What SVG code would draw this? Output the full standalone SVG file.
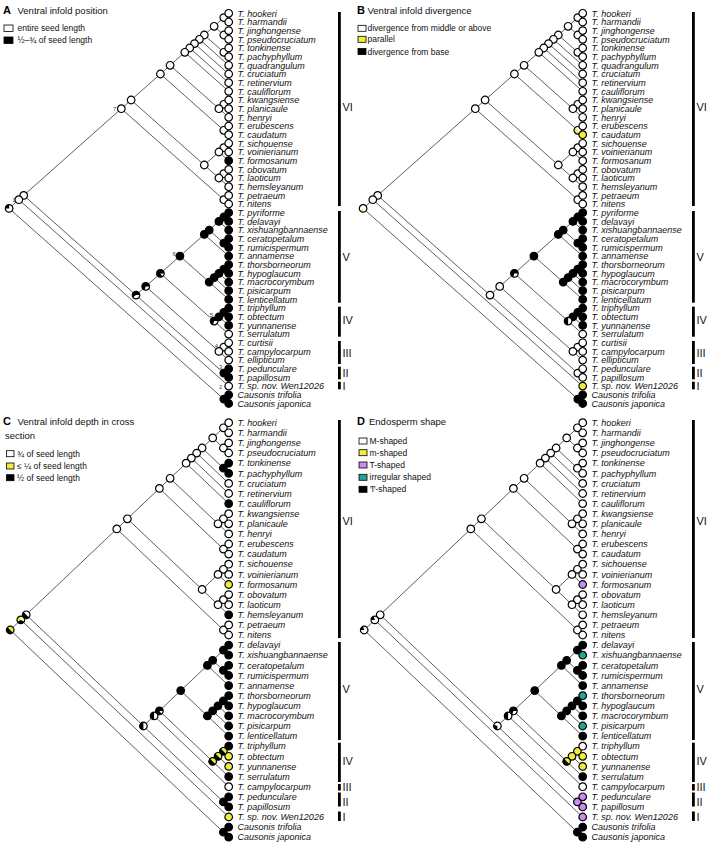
<svg xmlns="http://www.w3.org/2000/svg" xmlns:xlink="http://www.w3.org/1999/xlink" width="708" height="852" viewBox="0 0 708 852">
<defs>
<style>
.e{fill:none;stroke:#2a2a2a;stroke-width:0.75}
.tx text{font-family:"Liberation Sans",Arial,sans-serif;font-size:9px;font-style:italic;fill:#111}
.ttl{font-family:"Liberation Sans",Arial,sans-serif;font-size:9.5px;fill:#111}
.lg{font-family:"Liberation Sans",Arial,sans-serif;font-size:8.5px;fill:#111}
.pl{font-family:"Liberation Sans",Arial,sans-serif;font-size:11px;font-weight:bold;fill:#000}
.cl{font-family:"Liberation Sans",Arial,sans-serif;font-size:11px;fill:#111}
.nm{font-family:"Liberation Sans",Arial,sans-serif;font-size:6px;fill:#444}
.o{stroke:#000;stroke-width:1.2}
.bx{stroke:#000;stroke-width:0.8}
.up{font-style:normal}
</style>
<circle id="w" class="o" r="3.8" fill="#fff"/>
<circle id="k" class="o" r="3.8" fill="#000"/>
<circle id="y" class="o" r="3.8" fill="#f2ec3c"/>
<circle id="p" class="o" r="3.8" fill="#c98cf0"/>
<circle id="t" class="o" r="3.8" fill="#22a393"/>
<circle id="ring" r="3.8" fill="none" stroke="#000" stroke-width="1.2"/>
<g id="wk25"><circle r="3.8" fill="#fff"/><path d="M0,0L-3.8,0A3.8,3.8 0 0,1 0,-3.8Z"/><use href="#ring"/></g>
<g id="wk20"><circle r="3.8" fill="#fff"/><path d="M0,0L-3.8,0A3.8,3.8 0 0,1 -1.17,-3.61Z"/><use href="#ring"/></g>
<g id="wk30"><circle r="3.8" fill="#fff"/><path d="M0,0L0,3.8A3.8,3.8 0 0,1 -3.61,-1.17Z"/><use href="#ring"/></g>
<g id="wk50"><circle r="3.8" fill="#fff"/><path d="M2.69,2.69A3.8,3.8 0 0,1 -2.69,-2.69Z"/><use href="#ring"/></g>
<g id="kw15"><circle r="3.8"/><path d="M0,0L3.8,0A3.8,3.8 0 0,1 2.23,3.07Z" fill="#fff"/><use href="#ring"/></g>
<g id="kw30"><circle r="3.8"/><path d="M0,0L3.8,0A3.8,3.8 0 0,1 -1.17,3.61Z" fill="#fff"/><use href="#ring"/></g>
<g id="kw40"><circle r="3.8"/><path d="M0,0L3.8,0A3.8,3.8 0 0,1 -3.07,2.23Z" fill="#fff"/><use href="#ring"/></g>
<g id="kw50"><circle r="3.8"/><path d="M0,-3.8A3.8,3.8 0 0,1 0,3.8Z" fill="#fff"/><use href="#ring"/></g>
<g id="yk50"><circle r="3.8" fill="#f2ec3c"/><path d="M2.69,2.69A3.8,3.8 0 0,1 -2.69,-2.69Z"/><use href="#ring"/></g>
<g id="ywk"><circle r="3.8" fill="#f2ec3c"/><path d="M0,0L0,-3.8A3.8,3.8 0 0,1 3.29,1.9Z" fill="#fff"/><path d="M0,0L3.29,1.9A3.8,3.8 0 0,1 -3.29,1.9Z"/><use href="#ring"/></g>
<g id="wy35"><circle r="3.8" fill="#fff"/><path d="M0,0L0,3.8A3.8,3.8 0 0,1 -3.07,-2.23Z" fill="#f2ec3c"/><use href="#ring"/></g>
<g id="wy15"><circle r="3.8" fill="#fff"/><path d="M0,0L0,3.8A3.8,3.8 0 0,1 -3.07,2.23Z" fill="#f2ec3c"/><use href="#ring"/></g>
</defs>
<rect width="708" height="852" fill="#fff"/>

<!-- ===== connectors ===== -->
<g id="connectors">
<g id="edges-A" class="e">
<path d="M228.7,13.3L223.8,17.6L228.7,22"/>
<path d="M228.7,30.6L223.8,35L228.7,39.3"/>
<path d="M223.8,17.6L214.1,26.3L223.8,35"/>
<path d="M228.7,48L223.8,52.3L228.7,56.7"/>
<path d="M214.1,26.3L204.3,35L223.8,52.3"/>
<path d="M204.3,35L199.4,39.3L228.7,65.3"/>
<path d="M199.4,39.3L194.5,43.6L228.7,74"/>
<path d="M194.5,43.6L189.7,48L228.7,82.7"/>
<path d="M189.7,48L184.8,52.3L228.7,91.3"/>
<path d="M228.7,100L223.8,104.3L228.7,108.7"/>
<path d="M223.8,104.3L218.9,108.7L228.7,117.3"/>
<path d="M184.8,52.3L170.1,65.3L218.9,108.7"/>
<path d="M228.7,126L223.8,130.3L228.7,134.7"/>
<path d="M170.1,65.3L160.4,74L223.8,130.3"/>
<path d="M228.7,143.3L223.8,147.7L228.7,152"/>
<path d="M223.8,147.7L218.9,152L228.7,160.7"/>
<path d="M228.7,169.4L223.8,173.7L228.7,178"/>
<path d="M223.8,173.7L218.9,178L228.7,186.7"/>
<path d="M218.9,152L204.3,165L218.9,178"/>
<path d="M160.4,74L131.1,100L204.3,165"/>
<path d="M228.7,195.4L223.8,199.7L228.7,204"/>
<path d="M131.1,100L121.3,108.7L223.8,199.7"/>
<path d="M228.7,212.7L223.8,217L228.7,221.4"/>
<path d="M223.8,217L218.9,221.4L228.7,230.1"/>
<path d="M228.7,238.7L223.8,243.1L228.7,247.4"/>
<path d="M218.9,221.4L209.2,230.1L223.8,243.1"/>
<path d="M209.2,230.1L204.3,234.4L228.7,256.1"/>
<path d="M228.7,264.7L223.8,269.1L228.7,273.4"/>
<path d="M223.8,269.1L218.9,273.4L228.7,282.1"/>
<path d="M218.9,273.4L214.1,277.7L228.7,290.7"/>
<path d="M214.1,277.7L209.2,282.1L228.7,299.4"/>
<path d="M204.3,234.4L179.9,256.1L209.2,282.1"/>
<path d="M228.7,308.1L223.8,312.4L228.7,316.8"/>
<path d="M223.8,312.4L218.9,316.8L228.7,325.4"/>
<path d="M218.9,316.8L214.1,321.1L228.7,334.1"/>
<path d="M179.9,256.1L160.4,273.4L214.1,321.1"/>
<path d="M228.7,342.8L223.8,347.1L228.7,351.4"/>
<path d="M223.8,347.1L218.9,351.4L228.7,360.1"/>
<path d="M160.4,273.4L145.7,286.4L218.9,351.4"/>
<path d="M228.7,368.8L223.8,373.1L228.7,377.4"/>
<path d="M145.7,286.4L136,295.1L223.8,373.1"/>
<path d="M121.3,108.7L23.7,195.4L136,295.1"/>
<path d="M23.7,195.4L18.8,199.7L228.7,386.1"/>
<path d="M228.7,394.8L223.8,399.1L228.7,403.5"/>
<path d="M18.8,199.7L9.1,208.4L223.8,399.1"/>
</g>
<use id="edges-B" href="#edges-A" x="354" y="0"/>
<g id="edges-C" class="e">
<path d="M228.7,422.7L223.4,427.8L228.7,432.8"/>
<path d="M228.7,442.9L223.4,448L228.7,453"/>
<path d="M223.4,427.8L212.7,437.9L223.4,448"/>
<path d="M228.7,463.1L223.4,468.2L228.7,473.3"/>
<path d="M212.7,437.9L202.1,448L223.4,468.2"/>
<path d="M202.1,448L196.7,453.1L228.7,483.4"/>
<path d="M196.7,453.1L191.4,458.1L228.7,493.5"/>
<path d="M191.4,458.1L186.1,463.2L228.7,503.6"/>
<path d="M228.7,513.7L223.4,518.8L228.7,523.8"/>
<path d="M223.4,518.8L218,523.8L228.7,533.9"/>
<path d="M186.1,463.2L170.1,478.3L218,523.8"/>
<path d="M228.7,544L223.4,549.1L228.7,554.1"/>
<path d="M170.1,478.3L159.4,488.4L223.4,549.1"/>
<path d="M228.7,564.2L223.4,569.3L228.7,574.4"/>
<path d="M223.4,569.3L218,574.4L228.7,584.5"/>
<path d="M228.7,594.6L223.4,599.7L228.7,604.7"/>
<path d="M223.4,599.7L218,604.7L228.7,614.8"/>
<path d="M218,574.4L202.1,589.5L218,604.7"/>
<path d="M159.4,488.4L127.4,518.8L202.1,589.5"/>
<path d="M228.7,624.9L223.4,630L228.7,635"/>
<path d="M127.4,518.8L116.8,528.9L223.4,630"/>
<path d="M228.7,645.1L223.4,650.2L228.7,655.2"/>
<path d="M228.7,665.3L223.4,670.4L228.7,675.5"/>
<path d="M223.4,650.2L212.7,660.3L223.4,670.4"/>
<path d="M212.7,660.3L207.4,665.4L228.7,685.6"/>
<path d="M228.7,695.7L223.4,700.8L228.7,705.8"/>
<path d="M223.4,700.8L218,705.8L228.7,715.9"/>
<path d="M218,705.8L212.7,710.9L228.7,726"/>
<path d="M212.7,710.9L207.4,715.9L228.7,736.1"/>
<path d="M207.4,665.4L180.7,690.6L207.4,715.9"/>
<path d="M228.7,746.2L223.4,751.3L228.7,756.3"/>
<path d="M223.4,751.3L218,756.3L228.7,766.4"/>
<path d="M218,756.3L212.7,761.4L228.7,776.6"/>
<path d="M180.7,690.6L159.4,710.9L212.7,761.4"/>
<path d="M159.4,710.9L154.1,715.9L228.7,786.7"/>
<path d="M228.7,796.8L223.4,801.9L228.7,806.9"/>
<path d="M154.1,715.9L143.4,726L223.4,801.9"/>
<path d="M116.8,528.9L26.2,614.8L143.4,726"/>
<path d="M26.2,614.8L20.8,619.9L228.7,817"/>
<path d="M228.7,827.1L223.4,832.2L228.7,837.2"/>
<path d="M20.8,619.9L10.2,630L223.4,832.2"/>
</g>
<use id="edges-D" href="#edges-C" x="354" y="0"/>
</g>

<!-- ===== Panel A ===== -->
<g id="panelA">
<g id="A-legend">
<text class="pl" x="3" y="14">A</text>
<text class="ttl" x="17.5" y="14.3">Ventral infold position</text>
<rect class="bx" x="4" y="25" width="9" height="6.5" fill="#fff"/>
<text class="lg" x="17.5" y="31.3">entire seed length</text>
<rect class="bx" x="4" y="37" width="9" height="6.5" fill="#000"/>
<text class="lg" x="17.5" y="43">½–¾  of seed length</text>
</g>
<g id="A-internal">
<use id="A-n01" href="#w" x="223.8" y="17.6"/>
<use id="A-n23" href="#w" x="223.8" y="35"/>
<use id="A-n0_3" href="#w" x="214.1" y="26.3"/>
<use id="A-n45" href="#w" x="223.8" y="52.3"/>
<use id="A-n0_5" href="#w" x="204.3" y="35"/>
<use id="A-n0_6" href="#w" x="199.4" y="39.3"/>
<use id="A-n0_7" href="#w" x="194.5" y="43.6"/>
<use id="A-n0_8" href="#w" x="189.7" y="48"/>
<use id="A-n0_9" href="#w" x="184.8" y="52.3"/>
<use id="A-n10_11" href="#w" x="223.8" y="104.3"/>
<use id="A-n10_12" href="#w" x="218.9" y="108.7"/>
<use id="A-n0_12" href="#w" x="170.1" y="65.3"/>
<use id="A-n13_14" href="#w" x="223.8" y="130.3"/>
<use id="A-n0_14" href="#w" x="160.4" y="74"/>
<use id="A-n15_16" href="#w" x="223.8" y="147.7"/>
<use id="A-n15_17" href="#w" x="218.9" y="152"/>
<use id="A-n18_19" href="#w" x="223.8" y="173.7"/>
<use id="A-n18_20" href="#w" x="218.9" y="178"/>
<use id="A-n15_20" href="#w" x="204.3" y="165"/>
<use id="A-n0_20" href="#w" x="131.1" y="100"/>
<use id="A-n21_22" href="#w" x="223.8" y="199.7"/>
<use id="A-VI" href="#w" x="121.3" y="108.7"/>
<use id="A-n23_24" href="#k" x="223.8" y="217"/>
<use id="A-n23_25" href="#k" x="218.9" y="221.4"/>
<use id="A-n26_27" href="#k" x="223.8" y="243.1"/>
<use id="A-n23_27" href="#k" x="209.2" y="230.1"/>
<use id="A-n23_28" href="#k" x="204.3" y="234.4"/>
<use id="A-n29_30" href="#k" x="223.8" y="269.1"/>
<use id="A-n29_31" href="#k" x="218.9" y="273.4"/>
<use id="A-n29_32" href="#k" x="214.1" y="277.7"/>
<use id="A-n29_33" href="#k" x="209.2" y="282.1"/>
<use id="A-V" href="#k" x="179.9" y="256.1"/>
<use id="A-n34_35" href="#k" x="223.8" y="312.4"/>
<use id="A-n34_36" href="#k" x="218.9" y="316.8"/>
<use id="A-IV" href="#kw30" x="214.1" y="321.1"/>
<use id="A-n23_37" href="#kw15" x="160.4" y="273.4"/>
<use id="A-n38_39" href="#w" x="223.8" y="347.1"/>
<use id="A-III" href="#w" x="218.9" y="351.4"/>
<use id="A-n23_40" href="#kw30" x="145.7" y="286.4"/>
<use id="A-n41_42" href="#k" x="223.8" y="373.1"/>
<use id="A-n23_42" href="#kw40" x="136" y="295.1"/>
<use id="A-n0_42" href="#w" x="23.7" y="195.4"/>
<use id="A-N1" href="#w" x="18.8" y="199.7"/>
<use id="A-n44_45" href="#k" x="223.8" y="399.1"/>
<use id="A-root" href="#wk25" x="9.1" y="208.4"/>
</g>
<g id="A-node-numbers" class="nm">
<text x="12.3" y="202.3">1</text>
<text x="219" y="388.5">2</text>
<text x="219" y="369.3">3</text>
<text x="214.8" y="347.7">4</text>
<text x="209.8" y="316.5">5</text>
<text x="172.5" y="256">6</text>
<text x="113" y="110.5">7</text>
</g>
<g id="A-tips" class="tx">
<g id="A-hookeri" transform="translate(228.7,13.3)"><use href="#w"/><text x="8.8" y="3.2">T. hookeri</text></g>
<g id="A-harmandii" transform="translate(228.7,22)"><use href="#w"/><text x="8.8" y="3.2">T. harmandii</text></g>
<g id="A-jinghongense" transform="translate(228.7,30.6)"><use href="#w"/><text x="8.8" y="3.2">T. jinghongense</text></g>
<g id="A-pseudocruciatum" transform="translate(228.7,39.3)"><use href="#w"/><text x="8.8" y="3.2">T. pseudocruciatum</text></g>
<g id="A-tonkinense" transform="translate(228.7,48)"><use href="#w"/><text x="8.8" y="3.2">T. tonkinense</text></g>
<g id="A-pachyphyllum" transform="translate(228.7,56.7)"><use href="#w"/><text x="8.8" y="3.2">T. pachyphyllum</text></g>
<g id="A-quadrangulum" transform="translate(228.7,65.3)"><use href="#w"/><text x="8.8" y="3.2">T. quadrangulum</text></g>
<g id="A-cruciatum" transform="translate(228.7,74)"><use href="#w"/><text x="8.8" y="3.2">T. cruciatum</text></g>
<g id="A-retinervium" transform="translate(228.7,82.7)"><use href="#w"/><text x="8.8" y="3.2">T. retinervium</text></g>
<g id="A-cauliflorum" transform="translate(228.7,91.3)"><use href="#w"/><text x="8.8" y="3.2">T. cauliflorum</text></g>
<g id="A-kwangsiense" transform="translate(228.7,100)"><use href="#w"/><text x="8.8" y="3.2">T. kwangsiense</text></g>
<g id="A-planicaule" transform="translate(228.7,108.7)"><use href="#w"/><text x="8.8" y="3.2">T. planicaule</text></g>
<g id="A-henryi" transform="translate(228.7,117.3)"><use href="#w"/><text x="8.8" y="3.2">T. henryi</text></g>
<g id="A-erubescens" transform="translate(228.7,126)"><use href="#w"/><text x="8.8" y="3.2">T. erubescens</text></g>
<g id="A-caudatum" transform="translate(228.7,134.7)"><use href="#w"/><text x="8.8" y="3.2">T. caudatum</text></g>
<g id="A-sichouense" transform="translate(228.7,143.3)"><use href="#w"/><text x="8.8" y="3.2">T. sichouense</text></g>
<g id="A-voinierianum" transform="translate(228.7,152)"><use href="#w"/><text x="8.8" y="3.2">T. voinierianum</text></g>
<g id="A-formosanum" transform="translate(228.7,160.7)"><use href="#k"/><text x="8.8" y="3.2">T. formosanum</text></g>
<g id="A-obovatum" transform="translate(228.7,169.4)"><use href="#w"/><text x="8.8" y="3.2">T. obovatum</text></g>
<g id="A-laoticum" transform="translate(228.7,178)"><use href="#w"/><text x="8.8" y="3.2">T. laoticum</text></g>
<g id="A-hemsleyanum" transform="translate(228.7,186.7)"><use href="#w"/><text x="8.8" y="3.2">T. hemsleyanum</text></g>
<g id="A-petraeum" transform="translate(228.7,195.4)"><use href="#w"/><text x="8.8" y="3.2">T. petraeum</text></g>
<g id="A-nitens" transform="translate(228.7,204)"><use href="#w"/><text x="8.8" y="3.2">T. nitens</text></g>
<g id="A-pyriforme" transform="translate(228.7,212.7)"><use href="#k"/><text x="8.8" y="3.2">T. pyriforme</text></g>
<g id="A-delavayi" transform="translate(228.7,221.4)"><use href="#k"/><text x="8.8" y="3.2">T. delavayi</text></g>
<g id="A-xishuangbannaense" transform="translate(228.7,230.1)"><use href="#k"/><text x="8.8" y="3.2">T. xishuangbannaense</text></g>
<g id="A-ceratopetalum" transform="translate(228.7,238.7)"><use href="#k"/><text x="8.8" y="3.2">T. ceratopetalum</text></g>
<g id="A-rumicispermum" transform="translate(228.7,247.4)"><use href="#k"/><text x="8.8" y="3.2">T. rumicispermum</text></g>
<g id="A-annamense" transform="translate(228.7,256.1)"><use href="#k"/><text x="8.8" y="3.2">T. annamense</text></g>
<g id="A-thorsborneorum" transform="translate(228.7,264.7)"><use href="#k"/><text x="8.8" y="3.2">T. thorsborneorum</text></g>
<g id="A-hypoglaucum" transform="translate(228.7,273.4)"><use href="#k"/><text x="8.8" y="3.2">T. hypoglaucum</text></g>
<g id="A-macrocorymbum" transform="translate(228.7,282.1)"><use href="#k"/><text x="8.8" y="3.2">T. macrocorymbum</text></g>
<g id="A-pisicarpum" transform="translate(228.7,290.7)"><use href="#k"/><text x="8.8" y="3.2">T. pisicarpum</text></g>
<g id="A-lenticellatum" transform="translate(228.7,299.4)"><use href="#k"/><text x="8.8" y="3.2">T. lenticellatum</text></g>
<g id="A-triphyllum" transform="translate(228.7,308.1)"><use href="#k"/><text x="8.8" y="3.2">T. triphyllum</text></g>
<g id="A-obtectum" transform="translate(228.7,316.8)"><use href="#k"/><text x="8.8" y="3.2">T. obtectum</text></g>
<g id="A-yunnanense" transform="translate(228.7,325.4)"><use href="#k"/><text x="8.8" y="3.2">T. yunnanense</text></g>
<g id="A-serrulatum" transform="translate(228.7,334.1)"><use href="#w"/><text x="8.8" y="3.2">T. serrulatum</text></g>
<g id="A-curtisii" transform="translate(228.7,342.8)"><use href="#w"/><text x="8.8" y="3.2">T. curtisii</text></g>
<g id="A-campylocarpum" transform="translate(228.7,351.4)"><use href="#w"/><text x="8.8" y="3.2">T. campylocarpum</text></g>
<g id="A-ellipticum" transform="translate(228.7,360.1)"><use href="#w"/><text x="8.8" y="3.2">T. ellipticum</text></g>
<g id="A-pedunculare" transform="translate(228.7,368.8)"><use href="#k"/><text x="8.8" y="3.2">T. pedunculare</text></g>
<g id="A-papillosum" transform="translate(228.7,377.4)"><use href="#k"/><text x="8.8" y="3.2">T. papillosum</text></g>
<g id="A-spnov" transform="translate(228.7,386.1)"><use href="#w"/><text x="8.8" y="3.2" class="up"><tspan font-style="italic">T.</tspan> sp. nov. Wen12026</text></g>
<g id="A-trifolia" transform="translate(228.7,394.8)"><use href="#k"/><text x="8.8" y="3.2">Causonis trifolia</text></g>
<g id="A-japonica" transform="translate(228.7,403.5)"><use href="#k"/><text x="8.8" y="3.2">Causonis japonica</text></g>
</g>
<g id="A-clades">
<rect x="338" y="12" width="2.8" height="194"/><text class="cl" x="342.5" y="110.5">VI</text>
<rect x="338" y="211" width="2.8" height="91.7"/><text class="cl" x="342.5" y="260.5">V</text>
<rect x="338" y="306.7" width="2.8" height="30"/><text class="cl" x="342.5" y="324">IV</text>
<rect x="338" y="341" width="2.8" height="23"/><text class="cl" x="342.5" y="356.5">III</text>
<rect x="338" y="366.7" width="2.8" height="12.6"/><text class="cl" x="342.5" y="376.8">II</text>
<rect x="338" y="381.7" width="2.8" height="7.6"/><text class="cl" x="342.5" y="389.7">I</text>
</g>
</g>

<!-- ===== Panel B ===== -->
<g id="panelB">
<g id="B-legend">
<text class="pl" x="357" y="14">B</text>
<text class="ttl" x="367.5" y="14.3">Ventral infold divergence</text>
<rect class="bx" x="358" y="25.3" width="8" height="6" fill="#fff"/>
<text class="lg" x="367.5" y="31.3">divergence from middle or above</text>
<rect class="bx" x="358" y="36.3" width="8" height="6" fill="#f2ec3c"/>
<text class="lg" x="367.5" y="42.3">parallel</text>
<rect class="bx" x="358" y="48.5" width="8" height="6" fill="#000"/>
<text class="lg" x="367.5" y="54.5">divergence from base</text>
</g>
<g transform="translate(354,0)">
<g id="B-internal">
<use id="B-n01" href="#w" x="223.8" y="17.6"/>
<use id="B-n23" href="#w" x="223.8" y="35"/>
<use id="B-n0_3" href="#w" x="214.1" y="26.3"/>
<use id="B-n45" href="#w" x="223.8" y="52.3"/>
<use id="B-n0_5" href="#w" x="204.3" y="35"/>
<use id="B-n0_6" href="#w" x="199.4" y="39.3"/>
<use id="B-n0_7" href="#w" x="194.5" y="43.6"/>
<use id="B-n0_8" href="#w" x="189.7" y="48"/>
<use id="B-n0_9" href="#w" x="184.8" y="52.3"/>
<use id="B-n10_11" href="#w" x="223.8" y="104.3"/>
<use id="B-n10_12" href="#w" x="218.9" y="108.7"/>
<use id="B-n0_12" href="#w" x="170.1" y="65.3"/>
<use id="B-n13_14" href="#wy35" x="223.8" y="130.3"/>
<use id="B-n0_14" href="#w" x="160.4" y="74"/>
<use id="B-n15_16" href="#w" x="223.8" y="147.7"/>
<use id="B-n15_17" href="#w" x="218.9" y="152"/>
<use id="B-n18_19" href="#w" x="223.8" y="173.7"/>
<use id="B-n18_20" href="#w" x="218.9" y="178"/>
<use id="B-n15_20" href="#w" x="204.3" y="165"/>
<use id="B-n0_20" href="#w" x="131.1" y="100"/>
<use id="B-n21_22" href="#w" x="223.8" y="199.7"/>
<use id="B-VI" href="#w" x="121.3" y="108.7"/>
<use id="B-n23_24" href="#k" x="223.8" y="217"/>
<use id="B-n23_25" href="#k" x="218.9" y="221.4"/>
<use id="B-n26_27" href="#k" x="223.8" y="243.1"/>
<use id="B-n23_27" href="#k" x="209.2" y="230.1"/>
<use id="B-n23_28" href="#k" x="204.3" y="234.4"/>
<use id="B-n29_30" href="#k" x="223.8" y="269.1"/>
<use id="B-n29_31" href="#k" x="218.9" y="273.4"/>
<use id="B-n29_32" href="#k" x="214.1" y="277.7"/>
<use id="B-n29_33" href="#k" x="209.2" y="282.1"/>
<use id="B-V" href="#k" x="179.9" y="256.1"/>
<use id="B-n34_35" href="#k" x="223.8" y="312.4"/>
<use id="B-n34_36" href="#k" x="218.9" y="316.8"/>
<use id="B-IV" href="#kw50" x="214.1" y="321.1"/>
<use id="B-n23_37" href="#kw30" x="160.4" y="273.4"/>
<use id="B-n38_39" href="#w" x="223.8" y="347.1"/>
<use id="B-III" href="#w" x="218.9" y="351.4"/>
<use id="B-n23_40" href="#w" x="145.7" y="286.4"/>
<use id="B-n41_42" href="#w" x="223.8" y="373.1"/>
<use id="B-n23_42" href="#w" x="136" y="295.1"/>
<use id="B-n0_42" href="#w" x="23.7" y="195.4"/>
<use id="B-N1" href="#w" x="18.8" y="199.7"/>
<use id="B-n44_45" href="#k" x="223.8" y="399.1"/>
<use id="B-root" href="#wy15" x="9.1" y="208.4"/>
</g>
<g id="B-tips" class="tx">
<g id="B-hookeri" transform="translate(228.7,13.3)"><use href="#w"/><text x="8.8" y="3.2">T. hookeri</text></g>
<g id="B-harmandii" transform="translate(228.7,22)"><use href="#w"/><text x="8.8" y="3.2">T. harmandii</text></g>
<g id="B-jinghongense" transform="translate(228.7,30.6)"><use href="#w"/><text x="8.8" y="3.2">T. jinghongense</text></g>
<g id="B-pseudocruciatum" transform="translate(228.7,39.3)"><use href="#w"/><text x="8.8" y="3.2">T. pseudocruciatum</text></g>
<g id="B-tonkinense" transform="translate(228.7,48)"><use href="#w"/><text x="8.8" y="3.2">T. tonkinense</text></g>
<g id="B-pachyphyllum" transform="translate(228.7,56.7)"><use href="#w"/><text x="8.8" y="3.2">T. pachyphyllum</text></g>
<g id="B-quadrangulum" transform="translate(228.7,65.3)"><use href="#w"/><text x="8.8" y="3.2">T. quadrangulum</text></g>
<g id="B-cruciatum" transform="translate(228.7,74)"><use href="#w"/><text x="8.8" y="3.2">T. cruciatum</text></g>
<g id="B-retinervium" transform="translate(228.7,82.7)"><use href="#w"/><text x="8.8" y="3.2">T. retinervium</text></g>
<g id="B-cauliflorum" transform="translate(228.7,91.3)"><use href="#w"/><text x="8.8" y="3.2">T. cauliflorum</text></g>
<g id="B-kwangsiense" transform="translate(228.7,100)"><use href="#w"/><text x="8.8" y="3.2">T. kwangsiense</text></g>
<g id="B-planicaule" transform="translate(228.7,108.7)"><use href="#w"/><text x="8.8" y="3.2">T. planicaule</text></g>
<g id="B-henryi" transform="translate(228.7,117.3)"><use href="#w"/><text x="8.8" y="3.2">T. henryi</text></g>
<g id="B-erubescens" transform="translate(228.7,126)"><use href="#w"/><text x="8.8" y="3.2">T. erubescens</text></g>
<g id="B-caudatum" transform="translate(228.7,134.7)"><use href="#y"/><text x="8.8" y="3.2">T. caudatum</text></g>
<g id="B-sichouense" transform="translate(228.7,143.3)"><use href="#w"/><text x="8.8" y="3.2">T. sichouense</text></g>
<g id="B-voinierianum" transform="translate(228.7,152)"><use href="#w"/><text x="8.8" y="3.2">T. voinierianum</text></g>
<g id="B-formosanum" transform="translate(228.7,160.7)"><use href="#w"/><text x="8.8" y="3.2">T. formosanum</text></g>
<g id="B-obovatum" transform="translate(228.7,169.4)"><use href="#w"/><text x="8.8" y="3.2">T. obovatum</text></g>
<g id="B-laoticum" transform="translate(228.7,178)"><use href="#w"/><text x="8.8" y="3.2">T. laoticum</text></g>
<g id="B-hemsleyanum" transform="translate(228.7,186.7)"><use href="#w"/><text x="8.8" y="3.2">T. hemsleyanum</text></g>
<g id="B-petraeum" transform="translate(228.7,195.4)"><use href="#w"/><text x="8.8" y="3.2">T. petraeum</text></g>
<g id="B-nitens" transform="translate(228.7,204)"><use href="#w"/><text x="8.8" y="3.2">T. nitens</text></g>
<g id="B-pyriforme" transform="translate(228.7,212.7)"><use href="#k"/><text x="8.8" y="3.2">T. pyriforme</text></g>
<g id="B-delavayi" transform="translate(228.7,221.4)"><use href="#k"/><text x="8.8" y="3.2">T. delavayi</text></g>
<g id="B-xishuangbannaense" transform="translate(228.7,230.1)"><use href="#k"/><text x="8.8" y="3.2">T. xishuangbannaense</text></g>
<g id="B-ceratopetalum" transform="translate(228.7,238.7)"><use href="#k"/><text x="8.8" y="3.2">T. ceratopetalum</text></g>
<g id="B-rumicispermum" transform="translate(228.7,247.4)"><use href="#k"/><text x="8.8" y="3.2">T. rumicispermum</text></g>
<g id="B-annamense" transform="translate(228.7,256.1)"><use href="#k"/><text x="8.8" y="3.2">T. annamense</text></g>
<g id="B-thorsborneorum" transform="translate(228.7,264.7)"><use href="#k"/><text x="8.8" y="3.2">T. thorsborneorum</text></g>
<g id="B-hypoglaucum" transform="translate(228.7,273.4)"><use href="#k"/><text x="8.8" y="3.2">T. hypoglaucum</text></g>
<g id="B-macrocorymbum" transform="translate(228.7,282.1)"><use href="#k"/><text x="8.8" y="3.2">T. macrocorymbum</text></g>
<g id="B-pisicarpum" transform="translate(228.7,290.7)"><use href="#k"/><text x="8.8" y="3.2">T. pisicarpum</text></g>
<g id="B-lenticellatum" transform="translate(228.7,299.4)"><use href="#k"/><text x="8.8" y="3.2">T. lenticellatum</text></g>
<g id="B-triphyllum" transform="translate(228.7,308.1)"><use href="#k"/><text x="8.8" y="3.2">T. triphyllum</text></g>
<g id="B-obtectum" transform="translate(228.7,316.8)"><use href="#k"/><text x="8.8" y="3.2">T. obtectum</text></g>
<g id="B-yunnanense" transform="translate(228.7,325.4)"><use href="#k"/><text x="8.8" y="3.2">T. yunnanense</text></g>
<g id="B-serrulatum" transform="translate(228.7,334.1)"><use href="#w"/><text x="8.8" y="3.2">T. serrulatum</text></g>
<g id="B-curtisii" transform="translate(228.7,342.8)"><use href="#w"/><text x="8.8" y="3.2">T. curtisii</text></g>
<g id="B-campylocarpum" transform="translate(228.7,351.4)"><use href="#w"/><text x="8.8" y="3.2">T. campylocarpum</text></g>
<g id="B-ellipticum" transform="translate(228.7,360.1)"><use href="#w"/><text x="8.8" y="3.2">T. ellipticum</text></g>
<g id="B-pedunculare" transform="translate(228.7,368.8)"><use href="#w"/><text x="8.8" y="3.2">T. pedunculare</text></g>
<g id="B-papillosum" transform="translate(228.7,377.4)"><use href="#w"/><text x="8.8" y="3.2">T. papillosum</text></g>
<g id="B-spnov" transform="translate(228.7,386.1)"><use href="#y"/><text x="8.8" y="3.2" class="up"><tspan font-style="italic">T.</tspan> sp. nov. Wen12026</text></g>
<g id="B-trifolia" transform="translate(228.7,394.8)"><use href="#k"/><text x="8.8" y="3.2">Causonis trifolia</text></g>
<g id="B-japonica" transform="translate(228.7,403.5)"><use href="#k"/><text x="8.8" y="3.2">Causonis japonica</text></g>
</g>
<g id="B-clades">
<rect x="338" y="12" width="2.8" height="194"/><text class="cl" x="342.5" y="110.5">VI</text>
<rect x="338" y="211" width="2.8" height="91.7"/><text class="cl" x="342.5" y="260.5">V</text>
<rect x="338" y="306.7" width="2.8" height="30"/><text class="cl" x="342.5" y="324">IV</text>
<rect x="338" y="341" width="2.8" height="23"/><text class="cl" x="342.5" y="356.5">III</text>
<rect x="338" y="366.7" width="2.8" height="12.6"/><text class="cl" x="342.5" y="376.8">II</text>
<rect x="338" y="381.7" width="2.8" height="7.6"/><text class="cl" x="342.5" y="389.7">I</text>
</g>
</g>
</g>

<!-- ===== Panel C ===== -->
<g id="panelC">
<g id="C-legend">
<text class="pl" x="3" y="424.5">C</text>
<text class="ttl" x="17.5" y="424.5">Ventral infold depth in cross</text>
<text class="ttl" x="5" y="438.5">section</text>
<rect class="bx" x="6.5" y="450.7" width="7.5" height="6" fill="#fff"/>
<text class="lg" x="17" y="456.7">¾ of seed length</text>
<rect class="bx" x="6.5" y="463" width="7.5" height="6" fill="#f2ec3c"/>
<text class="lg" x="17" y="469">≤ ¼ of seed length</text>
<rect class="bx" x="6.5" y="474.7" width="7.5" height="6" fill="#000"/>
<text class="lg" x="17" y="480.7">½ of seed length</text>
</g>
<g id="C-internal">
<use id="C-n01" href="#w" x="223.4" y="427.8"/>
<use id="C-n23" href="#w" x="223.4" y="448"/>
<use id="C-n0_3" href="#w" x="212.7" y="437.9"/>
<use id="C-n45" href="#k" x="223.4" y="468.2"/>
<use id="C-n0_5" href="#w" x="202.1" y="448"/>
<use id="C-n0_6" href="#w" x="196.7" y="453.1"/>
<use id="C-n0_7" href="#w" x="191.4" y="458.1"/>
<use id="C-n0_8" href="#w" x="186.1" y="463.2"/>
<use id="C-n9_10" href="#w" x="223.4" y="518.8"/>
<use id="C-n9_11" href="#w" x="218" y="523.8"/>
<use id="C-n0_11" href="#w" x="170.1" y="478.3"/>
<use id="C-n12_13" href="#w" x="223.4" y="549.1"/>
<use id="C-n0_13" href="#w" x="159.4" y="488.4"/>
<use id="C-n14_15" href="#w" x="223.4" y="569.3"/>
<use id="C-n14_16" href="#w" x="218" y="574.4"/>
<use id="C-n17_18" href="#w" x="223.4" y="599.7"/>
<use id="C-n17_19" href="#w" x="218" y="604.7"/>
<use id="C-n14_19" href="#w" x="202.1" y="589.5"/>
<use id="C-n0_19" href="#w" x="127.4" y="518.8"/>
<use id="C-n20_21" href="#w" x="223.4" y="630"/>
<use id="C-VI" href="#w" x="116.8" y="528.9"/>
<use id="C-n22_23" href="#k" x="223.4" y="650.2"/>
<use id="C-n24_25" href="#k" x="223.4" y="670.4"/>
<use id="C-n22_25" href="#k" x="212.7" y="660.3"/>
<use id="C-n22_26" href="#k" x="207.4" y="665.4"/>
<use id="C-n27_28" href="#k" x="223.4" y="700.8"/>
<use id="C-n27_29" href="#k" x="218" y="705.8"/>
<use id="C-n27_30" href="#k" x="212.7" y="710.9"/>
<use id="C-n27_31" href="#k" x="207.4" y="715.9"/>
<use id="C-V" href="#k" x="180.7" y="690.6"/>
<use id="C-n32_33" href="#yk50" x="223.4" y="751.3"/>
<use id="C-n32_34" href="#yk50" x="218" y="756.3"/>
<use id="C-IV" href="#yk50" x="212.7" y="761.4"/>
<use id="C-n22_35" href="#kw15" x="159.4" y="710.9"/>
<use id="C-n22_36" href="#kw50" x="154.1" y="715.9"/>
<use id="C-n37_38" href="#k" x="223.4" y="801.9"/>
<use id="C-n22_38" href="#kw50" x="143.4" y="726"/>
<use id="C-n0_38" href="#wk50" x="26.2" y="614.8"/>
<use id="C-N1" href="#ywk" x="20.8" y="619.9"/>
<use id="C-n40_41" href="#k" x="223.4" y="832.2"/>
<use id="C-root" href="#yk50" x="10.2" y="630"/>
</g>
<g id="C-tips" class="tx">
<g id="C-hookeri" transform="translate(228.7,422.7)"><use href="#w"/><text x="8.8" y="3.2">T. hookeri</text></g>
<g id="C-harmandii" transform="translate(228.7,432.8)"><use href="#w"/><text x="8.8" y="3.2">T. harmandii</text></g>
<g id="C-jinghongense" transform="translate(228.7,442.9)"><use href="#w"/><text x="8.8" y="3.2">T. jinghongense</text></g>
<g id="C-pseudocruciatum" transform="translate(228.7,453)"><use href="#w"/><text x="8.8" y="3.2">T. pseudocruciatum</text></g>
<g id="C-tonkinense" transform="translate(228.7,463.1)"><use href="#k"/><text x="8.8" y="3.2">T. tonkinense</text></g>
<g id="C-pachyphyllum" transform="translate(228.7,473.3)"><use href="#k"/><text x="8.8" y="3.2">T. pachyphyllum</text></g>
<g id="C-cruciatum" transform="translate(228.7,483.4)"><use href="#w"/><text x="8.8" y="3.2">T. cruciatum</text></g>
<g id="C-retinervium" transform="translate(228.7,493.5)"><use href="#w"/><text x="8.8" y="3.2">T. retinervium</text></g>
<g id="C-cauliflorum" transform="translate(228.7,503.6)"><use href="#k"/><text x="8.8" y="3.2">T. cauliflorum</text></g>
<g id="C-kwangsiense" transform="translate(228.7,513.7)"><use href="#w"/><text x="8.8" y="3.2">T. kwangsiense</text></g>
<g id="C-planicaule" transform="translate(228.7,523.8)"><use href="#w"/><text x="8.8" y="3.2">T. planicaule</text></g>
<g id="C-henryi" transform="translate(228.7,533.9)"><use href="#w"/><text x="8.8" y="3.2">T. henryi</text></g>
<g id="C-erubescens" transform="translate(228.7,544)"><use href="#w"/><text x="8.8" y="3.2">T. erubescens</text></g>
<g id="C-caudatum" transform="translate(228.7,554.1)"><use href="#w"/><text x="8.8" y="3.2">T. caudatum</text></g>
<g id="C-sichouense" transform="translate(228.7,564.2)"><use href="#w"/><text x="8.8" y="3.2">T. sichouense</text></g>
<g id="C-voinierianum" transform="translate(228.7,574.4)"><use href="#w"/><text x="8.8" y="3.2">T. voinierianum</text></g>
<g id="C-formosanum" transform="translate(228.7,584.5)"><use href="#y"/><text x="8.8" y="3.2">T. formosanum</text></g>
<g id="C-obovatum" transform="translate(228.7,594.6)"><use href="#w"/><text x="8.8" y="3.2">T. obovatum</text></g>
<g id="C-laoticum" transform="translate(228.7,604.7)"><use href="#w"/><text x="8.8" y="3.2">T. laoticum</text></g>
<g id="C-hemsleyanum" transform="translate(228.7,614.8)"><use href="#k"/><text x="8.8" y="3.2">T. hemsleyanum</text></g>
<g id="C-petraeum" transform="translate(228.7,624.9)"><use href="#w"/><text x="8.8" y="3.2">T. petraeum</text></g>
<g id="C-nitens" transform="translate(228.7,635)"><use href="#w"/><text x="8.8" y="3.2">T. nitens</text></g>
<g id="C-delavayi" transform="translate(228.7,645.1)"><use href="#k"/><text x="8.8" y="3.2">T. delavayi</text></g>
<g id="C-xishuangbannaense" transform="translate(228.7,655.2)"><use href="#k"/><text x="8.8" y="3.2">T. xishuangbannaense</text></g>
<g id="C-ceratopetalum" transform="translate(228.7,665.3)"><use href="#k"/><text x="8.8" y="3.2">T. ceratopetalum</text></g>
<g id="C-rumicispermum" transform="translate(228.7,675.5)"><use href="#k"/><text x="8.8" y="3.2">T. rumicispermum</text></g>
<g id="C-annamense" transform="translate(228.7,685.6)"><use href="#k"/><text x="8.8" y="3.2">T. annamense</text></g>
<g id="C-thorsborneorum" transform="translate(228.7,695.7)"><use href="#k"/><text x="8.8" y="3.2">T. thorsborneorum</text></g>
<g id="C-hypoglaucum" transform="translate(228.7,705.8)"><use href="#k"/><text x="8.8" y="3.2">T. hypoglaucum</text></g>
<g id="C-macrocorymbum" transform="translate(228.7,715.9)"><use href="#k"/><text x="8.8" y="3.2">T. macrocorymbum</text></g>
<g id="C-pisicarpum" transform="translate(228.7,726)"><use href="#k"/><text x="8.8" y="3.2">T. pisicarpum</text></g>
<g id="C-lenticellatum" transform="translate(228.7,736.1)"><use href="#k"/><text x="8.8" y="3.2">T. lenticellatum</text></g>
<g id="C-triphyllum" transform="translate(228.7,746.2)"><use href="#k"/><text x="8.8" y="3.2">T. triphyllum</text></g>
<g id="C-obtectum" transform="translate(228.7,756.3)"><use href="#y"/><text x="8.8" y="3.2">T. obtectum</text></g>
<g id="C-yunnanense" transform="translate(228.7,766.4)"><use href="#y"/><text x="8.8" y="3.2">T. yunnanense</text></g>
<g id="C-serrulatum" transform="translate(228.7,776.6)"><use href="#k"/><text x="8.8" y="3.2">T. serrulatum</text></g>
<g id="C-campylocarpum" transform="translate(228.7,786.7)"><use href="#w"/><text x="8.8" y="3.2">T. campylocarpum</text></g>
<g id="C-pedunculare" transform="translate(228.7,796.8)"><use href="#k"/><text x="8.8" y="3.2">T. pedunculare</text></g>
<g id="C-papillosum" transform="translate(228.7,806.9)"><use href="#k"/><text x="8.8" y="3.2">T. papillosum</text></g>
<g id="C-spnov" transform="translate(228.7,817)"><use href="#y"/><text x="8.8" y="3.2" class="up"><tspan font-style="italic">T.</tspan> sp. nov. Wen12026</text></g>
<g id="C-trifolia" transform="translate(228.7,827.1)"><use href="#k"/><text x="8.8" y="3.2">Causonis trifolia</text></g>
<g id="C-japonica" transform="translate(228.7,837.2)"><use href="#k"/><text x="8.8" y="3.2">Causonis japonica</text></g>
</g>
<g id="C-clades">
<rect x="338" y="420" width="2.8" height="218"/><text class="cl" x="342.5" y="525">VI</text>
<rect x="338" y="642" width="2.8" height="98"/><text class="cl" x="342.5" y="693.3">V</text>
<rect x="338" y="742.7" width="2.8" height="39.3"/><text class="cl" x="342.5" y="765">IV</text>
<rect x="338" y="784" width="2.8" height="6.5"/><text class="cl" x="342.5" y="790.7">III</text>
<rect x="338" y="792.5" width="2.8" height="14"/><text class="cl" x="342.5" y="805.7">II</text>
<rect x="338" y="811.5" width="2.8" height="9.5"/><text class="cl" x="342.5" y="821">I</text>
</g>
</g>

<!-- ===== Panel D ===== -->
<g id="panelD">
<g id="D-legend">
<text class="pl" x="357" y="424.5">D</text>
<text class="ttl" x="369" y="424.5">Endosperm shape</text>
<rect class="bx" x="359" y="438" width="8" height="6" fill="#fff"/>
<text class="lg" x="369.5" y="444">M-shaped</text>
<rect class="bx" x="359" y="449.7" width="8" height="6" fill="#f2ec3c"/>
<text class="lg" x="369.5" y="455.7">m-shaped</text>
<rect class="bx" x="359" y="462" width="8" height="6" fill="#c98cf0"/>
<text class="lg" x="369.5" y="468">T-shaped</text>
<rect class="bx" x="359" y="474.3" width="8" height="6" fill="#22a393"/>
<text class="lg" x="369.5" y="480.3">irregular shaped</text>
<rect class="bx" x="359" y="486.3" width="8" height="6" fill="#000"/>
<text class="lg" x="369.5" y="492.3">Ͳ-shaped</text>
</g>
<g transform="translate(354,0)">
<g id="D-internal">
<use id="D-n01" href="#w" x="223.4" y="427.8"/>
<use id="D-n23" href="#w" x="223.4" y="448"/>
<use id="D-n0_3" href="#w" x="212.7" y="437.9"/>
<use id="D-n45" href="#w" x="223.4" y="468.2"/>
<use id="D-n0_5" href="#w" x="202.1" y="448"/>
<use id="D-n0_6" href="#w" x="196.7" y="453.1"/>
<use id="D-n0_7" href="#w" x="191.4" y="458.1"/>
<use id="D-n0_8" href="#w" x="186.1" y="463.2"/>
<use id="D-n9_10" href="#w" x="223.4" y="518.8"/>
<use id="D-n9_11" href="#w" x="218" y="523.8"/>
<use id="D-n0_11" href="#w" x="170.1" y="478.3"/>
<use id="D-n12_13" href="#w" x="223.4" y="549.1"/>
<use id="D-n0_13" href="#w" x="159.4" y="488.4"/>
<use id="D-n14_15" href="#w" x="223.4" y="569.3"/>
<use id="D-n14_16" href="#w" x="218" y="574.4"/>
<use id="D-n17_18" href="#w" x="223.4" y="599.7"/>
<use id="D-n17_19" href="#w" x="218" y="604.7"/>
<use id="D-n14_19" href="#w" x="202.1" y="589.5"/>
<use id="D-n0_19" href="#w" x="127.4" y="518.8"/>
<use id="D-n20_21" href="#w" x="223.4" y="630"/>
<use id="D-VI" href="#w" x="116.8" y="528.9"/>
<use id="D-n22_23" href="#k" x="223.4" y="650.2"/>
<use id="D-n24_25" href="#k" x="223.4" y="670.4"/>
<use id="D-n22_25" href="#k" x="212.7" y="660.3"/>
<use id="D-n22_26" href="#k" x="207.4" y="665.4"/>
<use id="D-n27_28" href="#k" x="223.4" y="700.8"/>
<use id="D-n27_29" href="#k" x="218" y="705.8"/>
<use id="D-n27_30" href="#k" x="212.7" y="710.9"/>
<use id="D-n27_31" href="#k" x="207.4" y="715.9"/>
<use id="D-V" href="#k" x="180.7" y="690.6"/>
<use id="D-n32_33" href="#y" x="223.4" y="751.3"/>
<use id="D-n32_34" href="#y" x="218" y="756.3"/>
<use id="D-IV" href="#yk50" x="212.7" y="761.4"/>
<use id="D-n22_35" href="#kw30" x="159.4" y="710.9"/>
<use id="D-n22_36" href="#kw50" x="154.1" y="715.9"/>
<use id="D-n37_38" href="#p" x="223.4" y="801.9"/>
<use id="D-n22_38" href="#wk30" x="143.4" y="726"/>
<use id="D-n0_38" href="#w" x="26.2" y="614.8"/>
<use id="D-N1" href="#wk20" x="20.8" y="619.9"/>
<use id="D-n40_41" href="#k" x="223.4" y="832.2"/>
<use id="D-root" href="#wk20" x="10.2" y="630"/>
</g>
<g id="D-tips" class="tx">
<g id="D-hookeri" transform="translate(228.7,422.7)"><use href="#w"/><text x="8.8" y="3.2">T. hookeri</text></g>
<g id="D-harmandii" transform="translate(228.7,432.8)"><use href="#w"/><text x="8.8" y="3.2">T. harmandii</text></g>
<g id="D-jinghongense" transform="translate(228.7,442.9)"><use href="#w"/><text x="8.8" y="3.2">T. jinghongense</text></g>
<g id="D-pseudocruciatum" transform="translate(228.7,453)"><use href="#w"/><text x="8.8" y="3.2">T. pseudocruciatum</text></g>
<g id="D-tonkinense" transform="translate(228.7,463.1)"><use href="#w"/><text x="8.8" y="3.2">T. tonkinense</text></g>
<g id="D-pachyphyllum" transform="translate(228.7,473.3)"><use href="#w"/><text x="8.8" y="3.2">T. pachyphyllum</text></g>
<g id="D-cruciatum" transform="translate(228.7,483.4)"><use href="#w"/><text x="8.8" y="3.2">T. cruciatum</text></g>
<g id="D-retinervium" transform="translate(228.7,493.5)"><use href="#w"/><text x="8.8" y="3.2">T. retinervium</text></g>
<g id="D-cauliflorum" transform="translate(228.7,503.6)"><use href="#w"/><text x="8.8" y="3.2">T. cauliflorum</text></g>
<g id="D-kwangsiense" transform="translate(228.7,513.7)"><use href="#w"/><text x="8.8" y="3.2">T. kwangsiense</text></g>
<g id="D-planicaule" transform="translate(228.7,523.8)"><use href="#w"/><text x="8.8" y="3.2">T. planicaule</text></g>
<g id="D-henryi" transform="translate(228.7,533.9)"><use href="#w"/><text x="8.8" y="3.2">T. henryi</text></g>
<g id="D-erubescens" transform="translate(228.7,544)"><use href="#w"/><text x="8.8" y="3.2">T. erubescens</text></g>
<g id="D-caudatum" transform="translate(228.7,554.1)"><use href="#w"/><text x="8.8" y="3.2">T. caudatum</text></g>
<g id="D-sichouense" transform="translate(228.7,564.2)"><use href="#w"/><text x="8.8" y="3.2">T. sichouense</text></g>
<g id="D-voinierianum" transform="translate(228.7,574.4)"><use href="#w"/><text x="8.8" y="3.2">T. voinierianum</text></g>
<g id="D-formosanum" transform="translate(228.7,584.5)"><use href="#p"/><text x="8.8" y="3.2">T. formosanum</text></g>
<g id="D-obovatum" transform="translate(228.7,594.6)"><use href="#w"/><text x="8.8" y="3.2">T. obovatum</text></g>
<g id="D-laoticum" transform="translate(228.7,604.7)"><use href="#w"/><text x="8.8" y="3.2">T. laoticum</text></g>
<g id="D-hemsleyanum" transform="translate(228.7,614.8)"><use href="#w"/><text x="8.8" y="3.2">T. hemsleyanum</text></g>
<g id="D-petraeum" transform="translate(228.7,624.9)"><use href="#w"/><text x="8.8" y="3.2">T. petraeum</text></g>
<g id="D-nitens" transform="translate(228.7,635)"><use href="#w"/><text x="8.8" y="3.2">T. nitens</text></g>
<g id="D-delavayi" transform="translate(228.7,645.1)"><use href="#k"/><text x="8.8" y="3.2">T. delavayi</text></g>
<g id="D-xishuangbannaense" transform="translate(228.7,655.2)"><use href="#t"/><text x="8.8" y="3.2">T. xishuangbannaense</text></g>
<g id="D-ceratopetalum" transform="translate(228.7,665.3)"><use href="#k"/><text x="8.8" y="3.2">T. ceratopetalum</text></g>
<g id="D-rumicispermum" transform="translate(228.7,675.5)"><use href="#k"/><text x="8.8" y="3.2">T. rumicispermum</text></g>
<g id="D-annamense" transform="translate(228.7,685.6)"><use href="#k"/><text x="8.8" y="3.2">T. annamense</text></g>
<g id="D-thorsborneorum" transform="translate(228.7,695.7)"><use href="#t"/><text x="8.8" y="3.2">T. thorsborneorum</text></g>
<g id="D-hypoglaucum" transform="translate(228.7,705.8)"><use href="#k"/><text x="8.8" y="3.2">T. hypoglaucum</text></g>
<g id="D-macrocorymbum" transform="translate(228.7,715.9)"><use href="#k"/><text x="8.8" y="3.2">T. macrocorymbum</text></g>
<g id="D-pisicarpum" transform="translate(228.7,726)"><use href="#t"/><text x="8.8" y="3.2">T. pisicarpum</text></g>
<g id="D-lenticellatum" transform="translate(228.7,736.1)"><use href="#k"/><text x="8.8" y="3.2">T. lenticellatum</text></g>
<g id="D-triphyllum" transform="translate(228.7,746.2)"><use href="#w"/><text x="8.8" y="3.2">T. triphyllum</text></g>
<g id="D-obtectum" transform="translate(228.7,756.3)"><use href="#y"/><text x="8.8" y="3.2">T. obtectum</text></g>
<g id="D-yunnanense" transform="translate(228.7,766.4)"><use href="#y"/><text x="8.8" y="3.2">T. yunnanense</text></g>
<g id="D-serrulatum" transform="translate(228.7,776.6)"><use href="#k"/><text x="8.8" y="3.2">T. serrulatum</text></g>
<g id="D-campylocarpum" transform="translate(228.7,786.7)"><use href="#w"/><text x="8.8" y="3.2">T. campylocarpum</text></g>
<g id="D-pedunculare" transform="translate(228.7,796.8)"><use href="#p"/><text x="8.8" y="3.2">T. pedunculare</text></g>
<g id="D-papillosum" transform="translate(228.7,806.9)"><use href="#p"/><text x="8.8" y="3.2">T. papillosum</text></g>
<g id="D-spnov" transform="translate(228.7,817)"><use href="#p"/><text x="8.8" y="3.2" class="up"><tspan font-style="italic">T.</tspan> sp. nov. Wen12026</text></g>
<g id="D-trifolia" transform="translate(228.7,827.1)"><use href="#k"/><text x="8.8" y="3.2">Causonis trifolia</text></g>
<g id="D-japonica" transform="translate(228.7,837.2)"><use href="#k"/><text x="8.8" y="3.2">Causonis japonica</text></g>
</g>
<g id="D-clades">
<rect x="338" y="420" width="2.8" height="218"/><text class="cl" x="342.5" y="525">VI</text>
<rect x="338" y="642" width="2.8" height="98"/><text class="cl" x="342.5" y="693.3">V</text>
<rect x="338" y="742.7" width="2.8" height="39.3"/><text class="cl" x="342.5" y="765">IV</text>
<rect x="338" y="784" width="2.8" height="6.5"/><text class="cl" x="342.5" y="790.7">III</text>
<rect x="338" y="792.5" width="2.8" height="14"/><text class="cl" x="342.5" y="805.7">II</text>
<rect x="338" y="811.5" width="2.8" height="9.5"/><text class="cl" x="342.5" y="821">I</text>
</g>
</g>
</g>
</svg>
